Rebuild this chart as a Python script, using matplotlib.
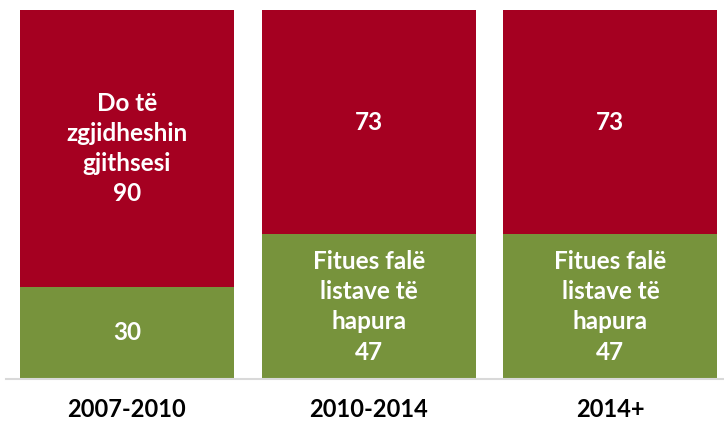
import matplotlib.pyplot as plt

# periods and seat counts
periods = ['2007-2010', '2010-2014', '2014+']
open_lists = [30, 47, 47]
all_elected = [90, 73, 73]

green_labels = ['30', 'Fitues falë\nlistave të\nhapura\n47', 'Fitues falë\nlistave të\nhapura\n47']
red_labels = ['Do të\nzgjidheshin\ngjithsesi\n90', '73', '73']

green = '#77933C'
red = '#A50021'

plt.rcParams['font.family'] = ['Lato', 'DejaVu Sans']

fig = plt.figure(figsize=(7.24, 4.23), dpi=100)
ax = fig.add_axes([6 / 724, 1 - 379 / 423, 718 / 724, 369 / 423])

x = list(range(len(periods)))
ax.bar(x, open_lists, width=0.886, color=green)
ax.bar(x, all_elected, width=0.886, bottom=open_lists, color=red)

for i in x:
    ax.text(i, open_lists[i] / 2, green_labels[i], ha='center', va='center',
            color='white', fontsize=17.5, fontweight='bold', linespacing=1.38)
    ax.text(i, open_lists[i] + all_elected[i] / 2, red_labels[i], ha='center', va='center',
            color='white', fontsize=17.5, fontweight='bold', linespacing=1.38)

ax.set_xlim(-0.5, 2.47)
ax.set_ylim(0, 120)
ax.set_yticks([])
ax.set_xticks(x)
ax.set_xticklabels(periods, fontsize=17, fontweight='bold')
ax.tick_params(axis='x', length=0, pad=14)
for s in ['top', 'right', 'left']:
    ax.spines[s].set_visible(False)
ax.spines['bottom'].set_color('#D9D9D9')
ax.spines['bottom'].set_linewidth(1.5)

fig.savefig('out.png', dpi=100)
